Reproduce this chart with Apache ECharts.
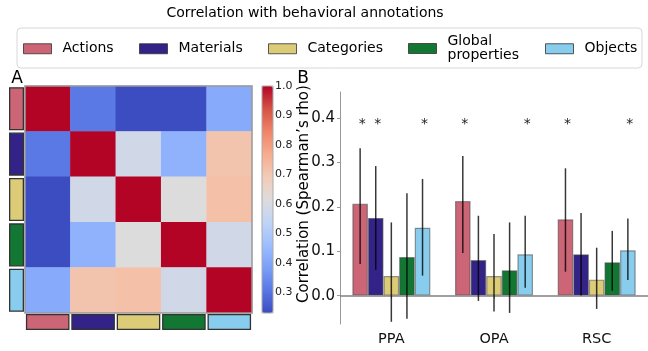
<!DOCTYPE html>
<html>
<head>
<meta charset="utf-8">
<script src="https://cdn.jsdelivr.net/npm/echarts@6/dist/echarts.min.js"></script>
<style>html,body{margin:0;padding:0;background:#fff;}#c{width:648px;height:351px;}</style>
</head>
<body>
<div id="c"></div>
<script>
// ---------- data ----------
const categories = ['Actions', 'Materials', 'Categories', 'Global properties', 'Objects'];
const legendLabels = ['Actions', 'Materials', 'Categories', 'Global\nproperties', 'Objects'];
const catColors = ['#cc6677', '#332288', '#ddcc77', '#117733', '#88ccee'];
const regions = ['PPA', 'OPA', 'RSC'];

// panel A: correlation between behavioral annotation RDMs
const corrMatrix = [
  [1.00, 0.31, 0.23, 0.23, 0.41],
  [0.31, 1.00, 0.58, 0.43, 0.71],
  [0.23, 0.58, 1.00, 0.615, 0.72],
  [0.23, 0.43, 0.615, 1.00, 0.58],
  [0.41, 0.71, 0.72, 0.58, 1.00]
];
const colorbarMin = 0.229;
const colorbarMax = 1.0;
const colorbarTicks = [0.3, 0.4, 0.5, 0.6, 0.7, 0.8, 0.9, 1.0];

// panel B: mean correlation per region (PPA, OPA, RSC)
const meanActions    = [0.207, 0.213, 0.172];
const meanMaterials  = [0.175, 0.080, 0.093];
const meanCategories = [0.044, 0.044, 0.036];
const meanGlobal     = [0.087, 0.057, 0.075];
const meanObjects    = [0.153, 0.093, 0.102];

const lowActions    = [0.071, 0.096, 0.054];
const highActions   = [0.332, 0.315, 0.287];
const lowMaterials  = [0.058, -0.012, 0.000];
const highMaterials = [0.292, 0.180, 0.186];
const lowCategories = [-0.059, -0.036, -0.030];
const highCategories= [0.165, 0.139, 0.108];
const lowGlobal     = [-0.052, -0.039, 0.011];
const highGlobal    = [0.231, 0.165, 0.146];
const lowObjects    = [0.045, 0.018, 0.035];
const highObjects   = [0.263, 0.180, 0.174];

const sigActions    = [1, 1, 1];
const sigMaterials  = [1, 0, 0];
const sigCategories = [0, 0, 0];
const sigGlobal     = [0, 0, 0];
const sigObjects    = [1, 1, 1];
const starLevel = 0.392;

const yTicks = [0, 0.1, 0.2, 0.3, 0.4];
const yMin = -0.064, yMax = 0.459;

// ---------- build ----------
const means = [meanActions, meanMaterials, meanCategories, meanGlobal, meanObjects];
const lows = [lowActions, lowMaterials, lowCategories, lowGlobal, lowObjects];
const highs = [highActions, highMaterials, highCategories, highGlobal, highObjects];
const sigs = [sigActions, sigMaterials, sigCategories, sigGlobal, sigObjects];

const coolwarm = ['#3b4cc0','#5977e3','#7b9ff9','#9ebeff','#c0d4f5','#dddcdc','#f2cbb7','#f7ac8e','#ee8468','#d65244','#b40426'];
const FONT = 'DejaVu Sans';
const BAR_W = 15.6;

const heatData = [];
corrMatrix.forEach((row, r) => row.forEach((v, c) => heatData.push([c, r, v])));

const series = [];
series.push({
  type: 'heatmap', xAxisIndex: 0, yAxisIndex: 0, data: heatData,
  itemStyle: { borderWidth: 0 }, emphasis: { disabled: true }
});
series.push({
  type: 'bar', xAxisIndex: 1, yAxisIndex: 1, barCategoryGap: '5%',
  data: categories.map((c, i) => ({ value: 1, itemStyle: { color: catColors[i] } })),
  itemStyle: { borderColor: '#333', borderWidth: 1.3 }, silent: true
});
series.push({
  type: 'bar', xAxisIndex: 2, yAxisIndex: 2, barCategoryGap: '4%',
  data: categories.map((c, i) => ({ value: 1, itemStyle: { color: catColors[i] } })),
  itemStyle: { borderColor: '#333', borderWidth: 1.3 }, silent: true
});
categories.forEach((name, i) => {
  const s = {
    type: 'bar', name: name, xAxisIndex: 4, yAxisIndex: 4,
    data: means[i], barWidth: BAR_W, barGap: '0%',
    itemStyle: { color: catColors[i], borderColor: 'rgba(70,70,70,0.55)', borderWidth: 1.2 },
    silent: true
  };
  if (i === 0) {
    s.markLine = {
      silent: true, symbol: 'none', label: { show: false },
      lineStyle: { color: '#808080', width: 1.5, type: 'solid' },
      data: [{ yAxis: 0 }]
    };
  }
  series.push(s);
});
categories.forEach((name, i) => {
  const off = (i - 2) * BAR_W;
  series.push({
    type: 'custom', xAxisIndex: 4, yAxisIndex: 4, z: 5, silent: true,
    data: regions.map((r, k) => [k, lows[i][k], highs[i][k]]),
    encode: { x: 0, y: [1, 2] },
    renderItem: function (params, api) {
      const p1 = api.coord([api.value(0), api.value(2)]);
      const p2 = api.coord([api.value(0), api.value(1)]);
      return { type: 'line', shape: { x1: p1[0] + off, y1: p1[1], x2: p2[0] + off, y2: p2[1] },
        style: { stroke: 'rgba(0,0,0,0.78)', lineWidth: 1.5 } };
    }
  });
  series.push({
    type: 'custom', xAxisIndex: 4, yAxisIndex: 4, z: 5, silent: true,
    data: regions.map((r, k) => [k, starLevel]).filter((d, k) => sigs[i][k]),
    encode: { x: 0, y: 1 },
    renderItem: function (params, api) {
      const p = api.coord([api.value(0), api.value(1)]);
      return { type: 'text', x: p[0] + off + 2, y: p[1] + 3,
        style: { text: '*', font: '14px ' + FONT, fill: '#222', align: 'center', verticalAlign: 'middle' } };
    }
  });
});

const legendX = [23, 139, 268, 408, 545];
const legends = categories.map((name, i) => ({
  data: [name], left: legendX[i], top: i === 3 ? 34 : 41.5, padding: 0,
  itemWidth: 28, itemHeight: 10, selectedMode: false, icon: 'rect',
  itemStyle: { borderColor: 'rgba(50,50,50,0.8)', borderWidth: 1 },
  formatter: () => legendLabels[i],
  textStyle: { fontFamily: FONT, fontSize: 14, color: '#000', lineHeight: 14.5, padding: [0, 0, 0, 6] }
}));

const hidden = { show: false };
const option = {
  animation: false,
  backgroundColor: '#fff',
  textStyle: { fontFamily: FONT },
  graphic: [
    { type: 'rect', z: -1, shape: { x: 17, y: 28, width: 625, height: 40, r: 4 },
      style: { fill: '#fff', stroke: '#d8d8d8', lineWidth: 1 } },
    { type: 'text', x: 305, y: 13.5, style: { text: 'Correlation with behavioral annotations', font: '14px ' + FONT, fill: '#000', align: 'center', verticalAlign: 'middle' } },
    { type: 'text', x: 17, y: 79, style: { text: 'A', font: '17px ' + FONT, fill: '#000', align: 'center', verticalAlign: 'middle' } },
    { type: 'text', x: 303, y: 79, style: { text: 'B', font: '17px ' + FONT, fill: '#000', align: 'center', verticalAlign: 'middle' } },
    { type: 'text', x: 304, y: 194, rotation: Math.PI / 2,
      style: { text: 'Correlation (Spearman\u2019s rho)', font: '15px ' + FONT, fill: '#000', align: 'center', verticalAlign: 'middle' } }
  ],
  legend: legends,
  visualMap: {
    type: 'continuous', min: colorbarMin, max: colorbarMax, seriesIndex: 0,
    inRange: { color: coolwarm }, left: 262, top: 86, itemWidth: 11, itemHeight: 227,
    calculable: false, padding: 0, hoverLink: false
  },
  grid: [
    { left: 25, top: 86, width: 227, height: 227, show: true, borderColor: '#999', borderWidth: 1.5, z: 3 },
    { left: 9, top: 86, width: 15, height: 227 },
    { left: 25, top: 314, width: 227, height: 16 },
    { left: 262, top: 86, width: 11, height: 227, show: true, borderColor: '#aaa', borderWidth: 1, z: 10 },
    { left: 340, top: 92, width: 325, height: 232 }
  ],
  xAxis: [
    { gridIndex: 0, type: 'category', data: categories, axisLine: hidden, axisTick: hidden, axisLabel: hidden, splitLine: hidden },
    { gridIndex: 1, type: 'value', min: 0, max: 1, show: false },
    { gridIndex: 2, type: 'category', data: categories, show: false },
    { gridIndex: 3, type: 'value', min: 0, max: 1, show: false },
    { gridIndex: 4, type: 'category', data: regions, boundaryGap: true,
      axisLine: hidden, axisTick: { show: true, length: 3, alignWithLabel: true, lineStyle: { color: '#999' } },
      axisLabel: { fontSize: 14.5, color: '#111', margin: 8, fontFamily: FONT } }
  ],
  yAxis: [
    { gridIndex: 0, type: 'category', data: categories, inverse: true, axisLine: hidden, axisTick: hidden, axisLabel: hidden, splitLine: hidden },
    { gridIndex: 1, type: 'category', data: categories, inverse: true, show: false },
    { gridIndex: 2, type: 'value', min: 0, max: 1, show: false },
    { gridIndex: 3, type: 'value', min: colorbarMin, max: colorbarMax, position: 'right',
      axisLine: { show: false }, splitLine: hidden,
      axisTick: { show: true, length: 3, customValues: colorbarTicks, lineStyle: { color: '#333' } },
      axisLabel: { customValues: colorbarTicks, fontSize: 11, color: '#222', margin: 2, fontFamily: FONT,
        formatter: v => v.toFixed(1) } },
    { gridIndex: 4, type: 'value', min: yMin, max: yMax,
      axisLine: { show: true, lineStyle: { color: '#999', width: 1 } },
      axisTick: { show: true, length: 3, customValues: yTicks, lineStyle: { color: '#999' } },
      axisLabel: { customValues: yTicks, fontSize: 15, color: '#111', margin: 5, fontFamily: FONT,
        formatter: v => v.toFixed(1) },
      splitLine: hidden }
  ],
  series: series
};
const chart = echarts.init(document.getElementById('c'), null, { renderer: 'canvas' });
chart.setOption(option);
</script>
</body>
</html>
